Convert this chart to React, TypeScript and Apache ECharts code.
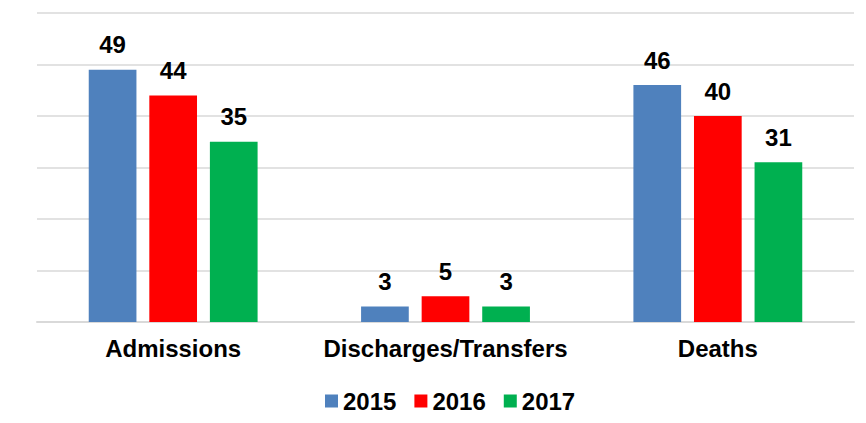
import React, { useEffect, useRef } from "react";
import * as echarts from "echarts";

const categories = ["Admissions", "Discharges/Transfers", "Deaths"];
const seriesNames = ["2015", "2016", "2017"];
const values2015 = [49, 3, 46];
const values2016 = [44, 5, 40];
const values2017 = [35, 3, 31];
const colors = ["#4f81bd", "#ff0000", "#00b050"];

const FONT = 'Arial, "Liberation Sans", sans-serif';

export default function App() {
  const ref = useRef<HTMLDivElement>(null);
  useEffect(() => {
    document.body.style.margin = "0";
    if (!ref.current) return;
    const chart = echarts.init(ref.current, undefined, { renderer: "svg" });
    const data = [values2015, values2016, values2017];
    chart.setOption({
      animation: false,
      textStyle: { fontFamily: FONT },
      grid: { left: 37, right: 12, top: 13, bottom: 101, containLabel: false },
      legend: {
        data: seriesNames,
        left: 320,
        top: 384,
        itemWidth: 13,
        itemHeight: 13,
        itemGap: 18,
        icon: "rect",
        textStyle: { fontSize: 24, fontWeight: "bold", color: "#000", fontFamily: FONT },
      },
      xAxis: {
        type: "category",
        data: categories,
        axisLine: { lineStyle: { color: "#d9d9d9", width: 2 } },
        axisTick: { show: false },
        axisLabel: {
          interval: 0,
          fontSize: 24,
          fontWeight: "bold",
          color: "#000",
          margin: 14,
          fontFamily: FONT,
        },
      },
      yAxis: {
        type: "value",
        min: 0,
        max: 60,
        interval: 10,
        axisLabel: { show: false },
        axisLine: { show: false },
        axisTick: { show: false },
        splitLine: { lineStyle: { color: "#d9d9d9", width: 1.5 } },
      },
      series: seriesNames.map((name, i) => ({
        name,
        type: "bar",
        data: data[i],
        barGap: "27%",
        barCategoryGap: "38%",
        itemStyle: { color: colors[i] },
        label: {
          show: true,
          position: "top",
          distance: 13,
          fontSize: 24,
          fontWeight: "bold",
          color: "#000",
          fontFamily: FONT,
        },
      })),
    });
    return () => chart.dispose();
  }, []);
  return <div ref={ref} style={{ width: 866, height: 423 }} />;
}
